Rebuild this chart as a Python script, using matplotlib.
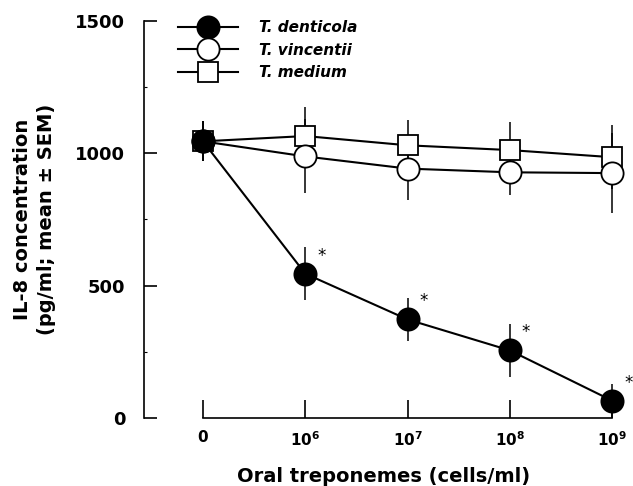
import matplotlib
matplotlib.use("Agg")
import matplotlib.pyplot as plt
from matplotlib.lines import Line2D
from matplotlib.ticker import MultipleLocator

plt.rcParams["font.family"] = ["DejaVu Sans"]
plt.rcParams["font.weight"] = "bold"
plt.rcParams["mathtext.fontset"] = "dejavusans"
plt.rcParams["mathtext.default"] = "bf"

# dose levels (categorical positions on the x axis)
dose_labels = ["0", r"$\mathbf{10^{6}}$", r"$\mathbf{10^{7}}$", r"$\mathbf{10^{8}}$", r"$\mathbf{10^{9}}$"]
dose_pos = [0, 1, 2, 3, 4]

denticola_mean = [1045, 545, 372, 255, 65]
denticola_sem = [75, 100, 80, 100, 65]
vincentii_mean = [1045, 988, 942, 928, 925]
vincentii_sem = [75, 140, 120, 86, 150]
medium_mean = [1045, 1065, 1030, 1012, 985]
medium_sem = [75, 110, 95, 105, 120]

series = [
    ("T. denticola", denticola_mean, denticola_sem, "o", "black", 16),
    ("T. vincentii", vincentii_mean, vincentii_sem, "o", "white", 16),
    ("T. medium", medium_mean, medium_sem, "s", "white", 15),
]

fig = plt.figure(figsize=(6.33, 4.86), dpi=100)
ax = fig.add_axes([0.2275, 0.14, 0.756, 0.817])

# draw medium first, denticola on top
for name, mean, sem, marker, face, size in reversed(series):
    ax.errorbar(dose_pos, mean, yerr=sem, fmt="none", ecolor="black", elinewidth=1.1, capsize=0,
                clip_on=False, zorder=2)
    ax.plot(dose_pos, mean, color="black", lw=1.5, marker=marker, markersize=size,
            markerfacecolor=face, markeredgecolor="black", markeredgewidth=1.3, clip_on=False, zorder=3)

# significance marks next to T. denticola points
for x, y in zip(dose_pos[1:], denticola_mean[1:]):
    ax.annotate("*", (x, y), xytext=(11.5, 13), textcoords="offset points", fontsize=12,
                fontweight="normal", ha="center", va="center")

ax.set_xlim(-0.576, 4.1)
ax.set_ylim(0, 1500)
ax.spines["top"].set_visible(False)
ax.spines["right"].set_visible(False)
ax.spines["bottom"].set_bounds(0, 4)
ax.spines["left"].set_linewidth(1.2)
ax.spines["bottom"].set_linewidth(1.2)

ax.set_xticks(dose_pos)
ax.set_xticklabels(dose_labels)
ax.set_yticks([0, 500, 1000, 1500])
ax.yaxis.set_minor_locator(MultipleLocator(250))
ax.tick_params(axis="x", direction="in", length=13, width=1.2, labelsize=11, pad=9)
ax.tick_params(axis="y", which="major", direction="in", length=9, width=1.2, labelsize=13, pad=13.5)
ax.tick_params(axis="y", which="minor", direction="in", length=2.5, width=0.8)

ax.set_xlabel("Oral treponemes (cells/ml)", fontsize=14, fontweight="bold", labelpad=12.5)
ax.set_ylabel("IL-8 concentration\n(pg/ml; mean \u00b1 SEM)", fontsize=14, fontweight="bold",
              labelpad=14, linespacing=1.35)

handles = [Line2D([0], [0], color="black", lw=1.5, marker=m, markersize=s, markerfacecolor=f,
                  markeredgecolor="black", markeredgewidth=1.3)
           for _, _, _, m, f, s in series]
leg = ax.legend(handles, [s[0] for s in series], loc="upper left", bbox_to_anchor=(0.043, 1.037),
                frameon=False, handlelength=3.9, handletextpad=1.4, labelspacing=0.5,
                prop={"size": 11, "weight": "bold", "style": "italic"})

fig.savefig("out.png", dpi=100)
